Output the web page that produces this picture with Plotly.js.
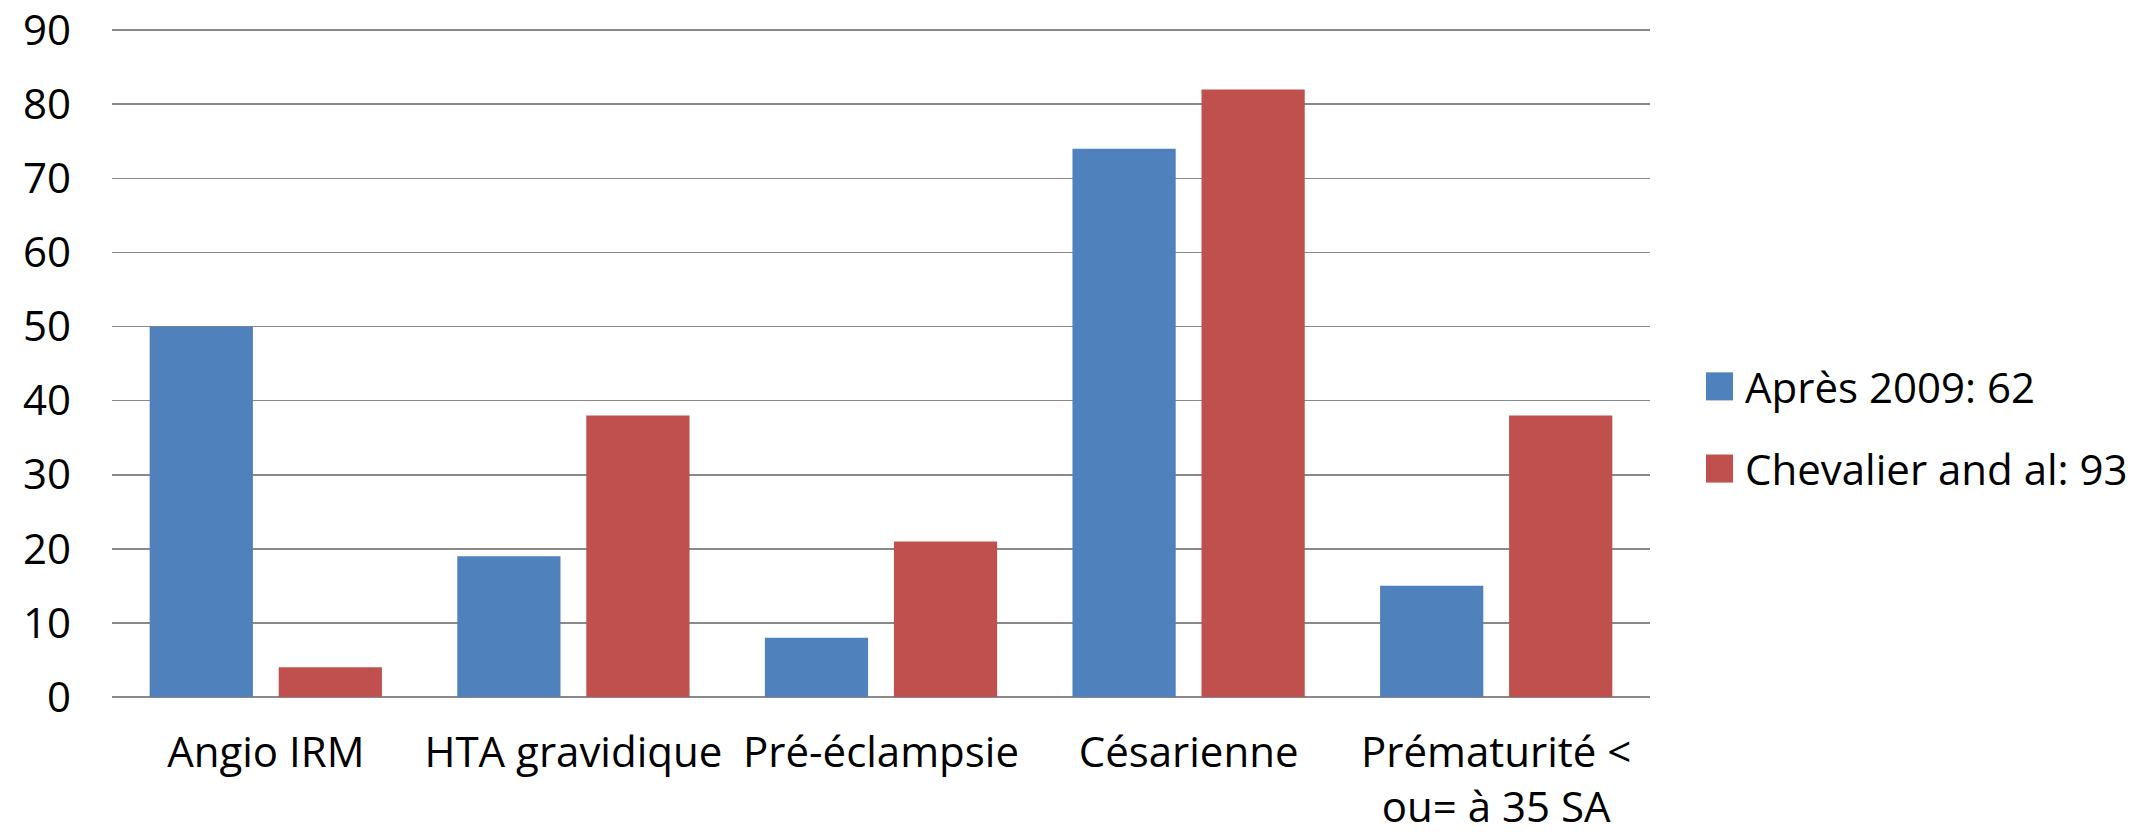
<!DOCTYPE html>
<html>
<head>
<meta charset="utf-8">
<script src="https://cdn.plot.ly/plotly-3.0.1.min.js"></script>
<style>
  html, body { margin: 0; padding: 0; background: #ffffff; }
  #chart { width: 2143px; height: 834px; }
</style>
</head>
<body>
<div id="chart"></div>
<script>
// Categories (x axis labels)
const categories = [
  'Angio IRM',
  'HTA gravidique',
  'Pré-éclampsie',
  'Césarienne',
  'Prématurité <<br>ou= à 35 SA'
];

// Series names
const seriesNames = ['Après 2009: 62', 'Chevalier and al: 93'];

// Series values (%)
const apres2009 = [50, 19, 8, 74, 15];
const chevalier = [4, 38, 21, 82, 38];

// Y axis ticks
const yTicks = [0, 10, 20, 30, 40, 50, 60, 70, 80, 90];

const colors = ['#4F81BD', '#C0504D'];
const fontFamily = '"Open Sans", "Noto Sans", sans-serif';

const traces = [
  { type: 'bar', name: seriesNames[0], x: categories, y: apres2009,
    marker: { color: colors[0] }, showlegend: false, hoverinfo: 'x+y' },
  { type: 'bar', name: seriesNames[1], x: categories, y: chevalier,
    marker: { color: colors[1] }, showlegend: false, hoverinfo: 'x+y' }
];

// Legend drawn as large squares with text labels beside them
const legendRowsY = [0.465, 0.342];
const squareHalf = 0.021;
const shapes = seriesNames.map((n, i) => ({
  type: 'rect', xref: 'paper', yref: 'paper',
  x0: 1.0364, x1: 1.0540,
  y0: legendRowsY[i] - squareHalf, y1: legendRowsY[i] + squareHalf,
  fillcolor: colors[i], line: { width: 0 }
}));
const annotations = seriesNames.map((n, i) => ({
  xref: 'paper', yref: 'paper', x: 1.0605, y: legendRowsY[i],
  xanchor: 'left', yanchor: 'middle', showarrow: false,
  text: n, font: { family: fontFamily, size: 42, color: '#000000' }
}));

const layout = {
  width: 2143,
  height: 834,
  margin: { l: 112, r: 493, t: 29, b: 137 },
  paper_bgcolor: '#ffffff',
  plot_bgcolor: '#ffffff',
  font: { family: fontFamily, size: 42, color: '#000000' },
  barmode: 'group',
  bargap: 0.161,
  bargroupgap: 0.2,
  showlegend: false,
  xaxis: {
    type: 'category',
    showgrid: false,
    showline: false,
    zeroline: false,
    ticks: '',
    ticklabelstandoff: 27,
    ticklabeloverflow: 'allow',
    tickfont: { family: fontFamily, size: 42, color: '#000000' }
  },
  yaxis: {
    range: [0, 90.15],
    tickvals: yTicks,
    ticktext: yTicks.map(String),
    showgrid: true,
    gridcolor: '#898989',
    gridwidth: 1.6,
    zeroline: true,
    zerolinecolor: '#898989',
    zerolinewidth: 1.6,
    showline: false,
    ticks: '',
    ticklabelstandoff: 40,
    ticklabeloverflow: 'allow',
    tickfont: { family: fontFamily, size: 42, color: '#000000' }
  },
  shapes: shapes,
  annotations: annotations
};

Plotly.newPlot('chart', traces, layout, { staticPlot: true, displayModeBar: false });
</script>
</body>
</html>
